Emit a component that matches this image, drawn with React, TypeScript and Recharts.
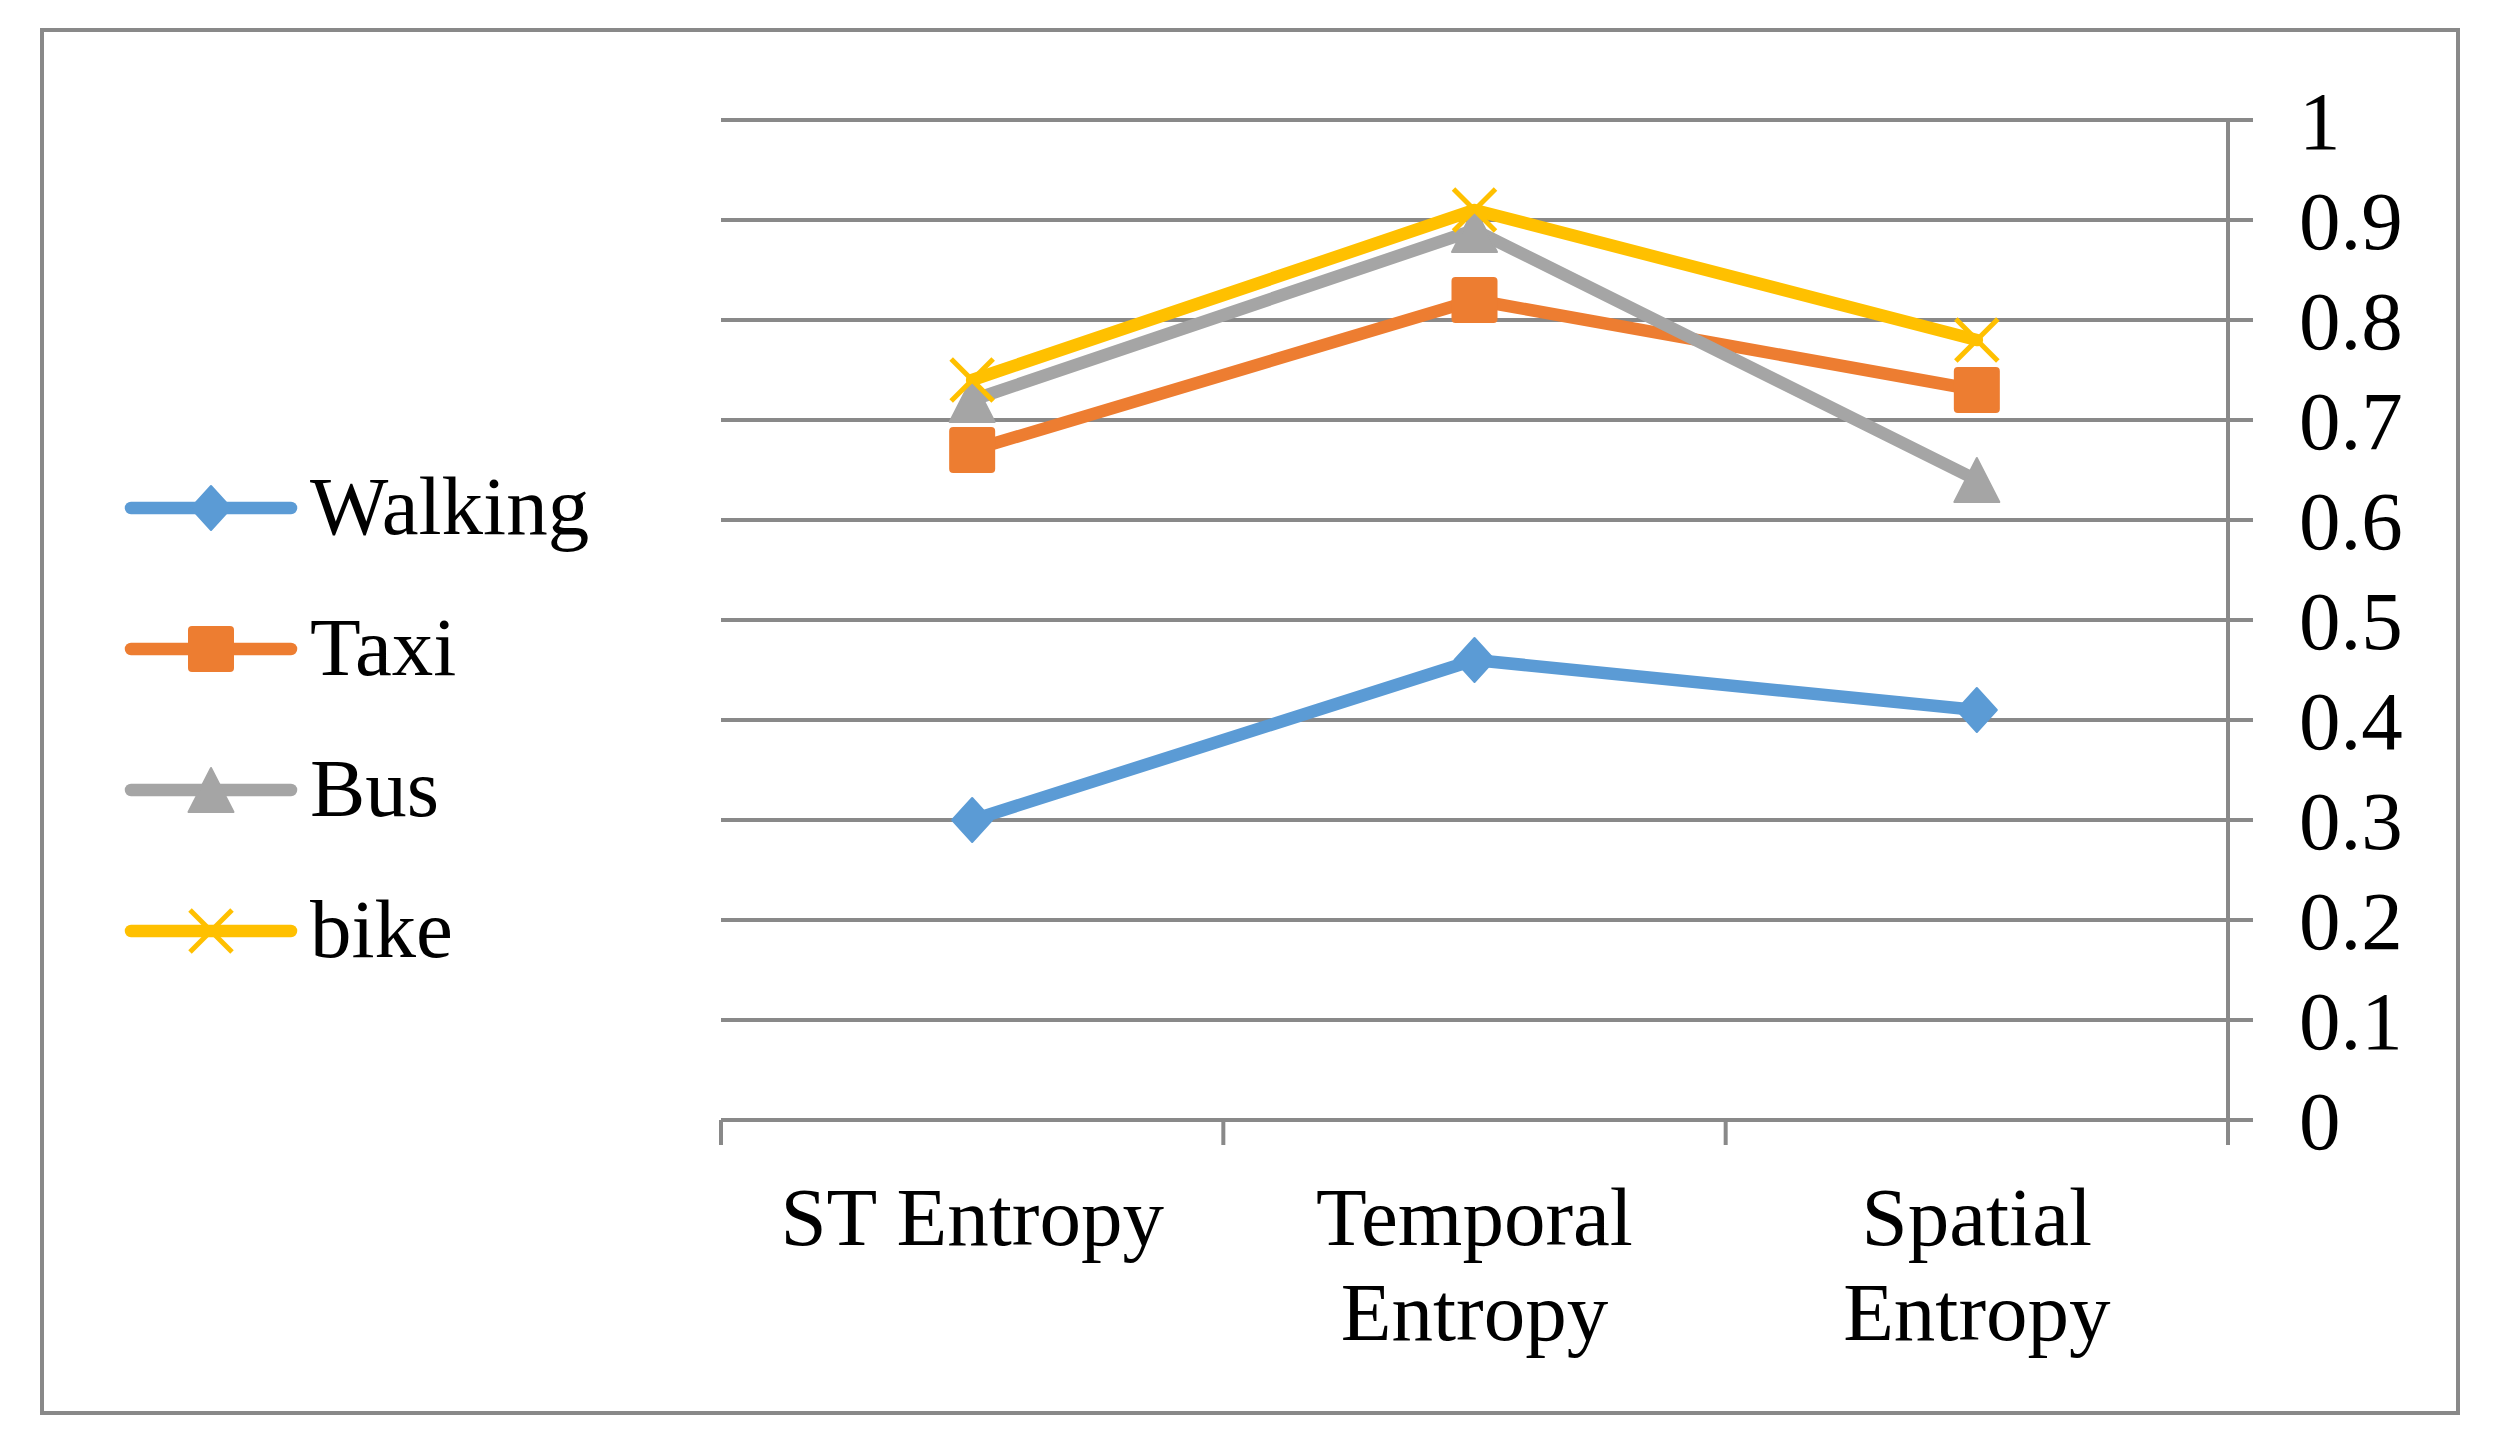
import React from 'react';
import { LineChart, Line, XAxis, YAxis, CartesianGrid, Legend } from 'recharts';

// ---- data ----
const categories = ['ST Entropy', 'Temporal Entropy', 'Spatial Entropy'];
const categoryLabelLines: string[][] = [['ST Entropy'], ['Temporal', 'Entropy'], ['Spatial', 'Entropy']];
const walkingValues = [0.30, 0.46, 0.41];
const taxiValues = [0.67, 0.82, 0.73];
const busValues = [0.72, 0.89, 0.64];
const bikeValues = [0.74, 0.91, 0.78];
const yTicks = [0, 0.1, 0.2, 0.3, 0.4, 0.5, 0.6, 0.7, 0.8, 0.9, 1];
const seriesNames = ['Walking', 'Taxi', 'Bus', 'bike'];

// ---- styles ----
const FONT = "'Liberation Serif', 'Times New Roman', serif";
const GRID = '#898989';
const LINE_W = 12.5;
const seriesStyle: Record<string, { color: string; marker: string }> = {
  Walking: { color: '#5B9BD5', marker: 'diamond' },
  Taxi: { color: '#ED7D31', marker: 'square' },
  Bus: { color: '#A5A5A5', marker: 'triangle' },
  bike: { color: '#FFC000', marker: 'x' },
};

const seriesValues: Record<string, number[]> = {
  Walking: walkingValues,
  Taxi: taxiValues,
  Bus: busValues,
  bike: bikeValues,
};

const data = categories.map((c, i) => {
  const row: Record<string, any> = { category: c };
  seriesNames.forEach((s) => {
    row[s] = seriesValues[s][i];
  });
  return row;
});

function Marker({ cx, cy, type, color }: { cx: number; cy: number; type: string; color: string }) {
  if (cx == null || cy == null || isNaN(cx) || isNaN(cy)) return null;
  if (type === 'diamond') {
    return (
      <polygon
        points={`${cx},${cy - 22} ${cx + 20},${cy} ${cx},${cy + 22} ${cx - 20},${cy}`}
        fill={color}
        stroke={color}
        strokeWidth={2}
        strokeLinejoin="round"
      />
    );
  }
  if (type === 'square') {
    return <rect x={cx - 23} y={cy - 23} width={46} height={46} rx={4} fill={color} />;
  }
  if (type === 'triangle') {
    return (
      <polygon
        points={`${cx},${cy - 22} ${cx + 22.5},${cy + 22} ${cx - 22.5},${cy + 22}`}
        fill={color}
        stroke={color}
        strokeWidth={2}
        strokeLinejoin="round"
      />
    );
  }
  return (
    <g stroke={color} strokeWidth={5}>
      <line x1={cx - 21} y1={cy - 21} x2={cx + 21} y2={cy + 21} />
      <line x1={cx - 21} y1={cy + 21} x2={cx + 21} y2={cy - 21} />
    </g>
  );
}

const makeDot = (name: string) => (props: any) => {
  const st = seriesStyle[name];
  return (
    <Marker
      key={`dot-${name}-${props.index}`}
      cx={props.cx}
      cy={props.cy}
      type={st.marker}
      color={st.color}
    />
  );
};

function CategoryTick(props: any) {
  const { x, y, width, visibleTicksCount, index, payload } = props;
  const band =
    width && visibleTicksCount ? width / visibleTicksCount : ((payload && payload.offset) || 0) * 2;
  const idx = categories.indexOf(payload.value);
  const lines = idx >= 0 ? categoryLabelLines[idx] : [String(payload.value)];
  const isLast = index === (visibleTicksCount || categories.length) - 1;
  return (
    <g>
      <line x1={x - band / 2} x2={x - band / 2} y1={y} y2={y + 25} stroke={GRID} strokeWidth={4} />
      {isLast && (
        <line x1={x + band / 2} x2={x + band / 2} y1={y} y2={y + 25} stroke={GRID} strokeWidth={4} />
      )}
      <text textAnchor="middle" fontFamily={FONT} fontSize={83} fill="#000">
        {lines.map((ln, i) => (
          <tspan key={i} x={x} y={y + 125 + i * 95}>
            {ln}
          </tspan>
        ))}
      </text>
    </g>
  );
}

const renderLegend = (props: any) => {
  const payload: any[] = props.payload || [];
  const ordered = seriesNames
    .map((n) => payload.find((p) => p.dataKey === n || p.value === n))
    .filter(Boolean);
  return (
    <svg width={700} height={1440} style={{ display: 'block' }}>
      {ordered.map((entry: any, i: number) => {
        const name = String(entry.dataKey ?? entry.value);
        const st = seriesStyle[name];
        const cy = 508 + i * 141;
        return (
          <g key={name}>
            <line x1={131} x2={291} y1={cy} y2={cy} stroke={st.color} strokeWidth={LINE_W} strokeLinecap="round" />
            <Marker cx={211} cy={cy} type={st.marker} color={st.color} />
            <text x={310} y={cy + 26} fontFamily={FONT} fontSize={83} fill="#000">
              {name}
            </text>
          </g>
        );
      })}
    </svg>
  );
};

export default function App() {
  return (
    <div
      style={{
        position: 'absolute',
        left: 0,
        top: 0,
        width: 2496,
        height: 1440,
        background: '#fff',
        overflow: 'hidden',
      }}
    >
      <div
        style={{
          position: 'absolute',
          left: 40,
          top: 28,
          width: 2420,
          height: 1387,
          boxSizing: 'border-box',
          border: `4px solid ${GRID}`,
        }}
      />
      <div style={{ position: 'absolute', left: 0, top: 0 }}>
        <LineChart
          width={2496}
          height={1440}
          data={data}
          margin={{ top: 120, right: 68, bottom: 70, left: 721 }}
        >
          <CartesianGrid horizontal vertical={false} stroke={GRID} strokeWidth={4} />
          <XAxis
            dataKey="category"
            scale="band"
            height={250}
            interval={0}
            tickSize={0}
            tickMargin={0}
            tickLine={false}
            axisLine={{ stroke: GRID, strokeWidth: 4 }}
            tick={<CategoryTick />}
          />
          <YAxis
            orientation="right"
            domain={[0, 1]}
            ticks={yTicks}
            interval={0}
            width={200}
            tickSize={25}
            tickMargin={46}
            axisLine={{ stroke: GRID, strokeWidth: 4 }}
            tickLine={{ stroke: GRID, strokeWidth: 4 }}
            tick={{ fill: '#000', fontSize: 83, fontFamily: FONT }}
            tickFormatter={(v: number) => String(Math.round(v * 10) / 10)}
          />
          <Legend
            layout="vertical"
            align="center"
            verticalAlign="middle"
            content={renderLegend}
            wrapperStyle={{ left: 0, top: 0, width: 700, height: 1440 }}
          />
          {seriesNames.map((name) => (
            <Line
              key={name}
              type="linear"
              dataKey={name}
              name={name}
              stroke={seriesStyle[name].color}
              strokeWidth={LINE_W}
              strokeLinejoin="round"
              strokeLinecap="round"
              dot={makeDot(name)}
              activeDot={false}
              isAnimationActive={false}
            />
          ))}
        </LineChart>
      </div>
    </div>
  );
}
